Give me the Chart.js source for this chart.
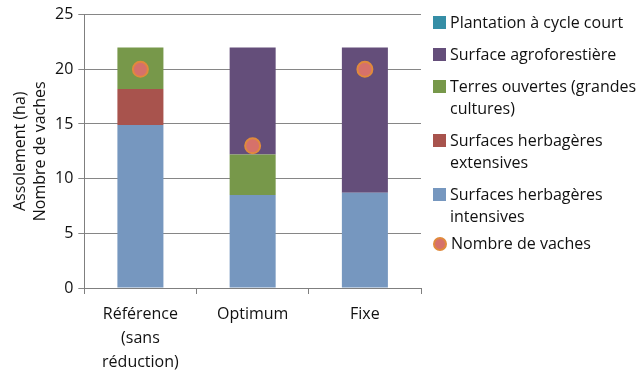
<!DOCTYPE html>
<html>
<head>
<meta charset="utf-8">
<script src="https://cdn.jsdelivr.net/npm/chart.js@4/dist/chart.umd.min.js"></script>
<style>
  html, body { margin: 0; padding: 0; background: #fff; }
  #wrap { position: relative; width: 637px; height: 372px; overflow: hidden; }
  #legend { position: absolute; left: 433px; top: 11px; font-family: "Open Sans", sans-serif; font-size: 16px; color: #111; }
  #legend .item { display: flex; align-items: flex-start; margin-bottom: 10px; line-height: 22px; }
  #legend .box { width: 13px; height: 13px; flex: none; margin-top: 5px; margin-right: 4px; }
  #legend .dot { border-radius: 50%; box-sizing: border-box; width: 14px; height: 14px; }
  #legend .item.point { margin-top: -5px; }
</style>
</head>
<body>
<div id="wrap">
  <canvas id="assolement-chart" width="637" height="372"></canvas>
  <div id="legend"></div>
</div>
<script>
const categories = [['Référence', '(sans', 'réduction)'], 'Optimum', 'Fixe'];

// surfaces in ha, stacked from the bottom up
const intensives = [14.9, 8.5, 8.7];
const extensives = [3.3, 0, 0];
const terresOuvertes = [3.8, 3.7, 0];
const agroforestiere = [0, 9.8, 13.3];
const plantation = [0, 0, 0];

// number of cows
const vaches = [20, 13, 20];

const yTicks = [0, 5, 10, 15, 20, 25];

function barSet(label, data, color) {
    return {
        type: 'bar',
        label: label,
        data: data,
        backgroundColor: color,
        borderWidth: 0,
        stack: 'surface',
        order: 1,
        categoryPercentage: 1,
        barPercentage: 0.41
    };
}

const fontFamily = '"Open Sans", sans-serif';

// html legend, top to bottom like the stack
const htmlLegend = {
    id: 'htmlLegend',
    afterUpdate(chart) {
        const box = document.querySelector('#legend');
        box.innerHTML = '';
        const sets = chart.data.datasets;
        const bars = sets.filter(ds => ds.type === 'bar').reverse();
        const others = sets.filter(ds => ds.type !== 'bar');
        bars.concat(others).forEach(ds => {
            const item = document.createElement('div');
            item.className = 'item';
            const swatch = document.createElement('span');
            swatch.className = 'box';
            if (ds.type === 'bar') {
                swatch.style.background = ds.backgroundColor;
            } else {
                item.classList.add('point');
                swatch.classList.add('dot');
                swatch.style.background = ds.pointBackgroundColor;
                swatch.style.border = '2px solid ' + ds.pointBorderColor;
            }
            const text = document.createElement('span');
            text.innerHTML = ds.legendText || ds.label;
            item.appendChild(swatch);
            item.appendChild(text);
            box.appendChild(item);
        });
    }
};

const ctx = document.querySelector('#assolement-chart').getContext('2d');

new Chart(ctx, {
    data: {
        labels: categories,
        datasets: [
            Object.assign(barSet('Surfaces herbagères intensives', intensives, '#7697bf'), {legendText: 'Surfaces herbagères<br>intensives'}),
            Object.assign(barSet('Surfaces herbagères extensives', extensives, '#a8534d'), {legendText: 'Surfaces herbagères<br>extensives'}),
            Object.assign(barSet('Terres ouvertes (grandes cultures)', terresOuvertes, '#77984a'), {legendText: 'Terres ouvertes (grandes<br>cultures)'}),
            barSet('Surface agroforestière', agroforestiere, '#644e7a'),
            barSet('Plantation à cycle court', plantation, '#358ea6'),
            {
                type: 'line',
                label: 'Nombre de vaches',
                data: vaches,
                stack: 'vaches',
                showLine: false,
                order: 0,
                pointRadius: 7.5,
                pointHoverRadius: 7.5,
                pointBackgroundColor: '#d6716a',
                pointBorderColor: '#e08a3c',
                pointBorderWidth: 2
            }
        ]
    },
    options: {
        responsive: false,
        animation: false,
        events: [],
        layout: { padding: { top: 10, right: 216, left: 10, bottom: -10 } },
        plugins: {
            legend: { display: false },
            tooltip: { enabled: false }
        },
        scales: {
            x: {
                stacked: true,
                offset: true,
                grid: {
                    offset: true,
                    drawOnChartArea: false,
                    drawTicks: true,
                    tickLength: 6,
                    color: '#7f7f7f'
                },
                border: { color: '#7f7f7f', width: 1 },
                ticks: {
                    color: '#111',
                    padding: 8,
                    maxRotation: 0,
                    font: { family: fontFamily, size: 16, lineHeight: 1.5 }
                }
            },
            y: {
                stacked: true,
                min: 0,
                max: 25,
                afterBuildTicks(axis) {
                    axis.ticks = yTicks.map(v => ({ value: v }));
                },
                grid: {
                    color: '#868686',
                    tickLength: 6,
                    lineWidth: 1
                },
                border: { color: '#7f7f7f', width: 1 },
                ticks: {
                    color: '#111',
                    padding: 5,
                    font: { family: fontFamily, size: 16 }
                },
                title: {
                    display: true,
                    text: ['Assolement (ha)', 'Nombre de vaches'],
                    color: '#111',
                    padding: 0,
                    font: { family: fontFamily, size: 16, lineHeight: 1.25 }
                }
            }
        }
    },
    plugins: [htmlLegend]
});
</script>
</body>
</html>
